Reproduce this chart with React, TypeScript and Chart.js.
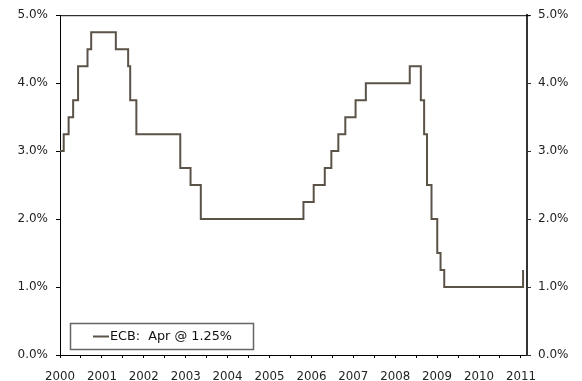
import React, { useEffect, useRef } from "react";
import { Chart, registerables } from "chart.js";

Chart.register(...registerables);

// Year tick labels along the bottom axis
const yearLabels = ["2000", "2001", "2002", "2003", "2004", "2005", "2006", "2007", "2008", "2009", "2010", "2011"];

// ECB main refinancing rate: change dates (decimal years) and new level (%)
const changeDates = [
  2000.0, 2000.09, 2000.21, 2000.32, 2000.44, 2000.67, 2000.76,
  2001.36, 2001.66, 2001.71, 2001.86,
  2002.93, 2003.18, 2003.43,
  2005.93, 2006.18, 2006.45, 2006.61, 2006.78, 2006.95, 2007.2, 2007.45,
  2008.52, 2008.79, 2008.87, 2008.94, 2009.05, 2009.19, 2009.27, 2009.36,
  2011.28,
];
const rateValues = [
  3.0, 3.25, 3.5, 3.75, 4.25, 4.5, 4.75,
  4.5, 4.25, 3.75, 3.25,
  2.75, 2.5, 2.0,
  2.25, 2.5, 2.75, 3.0, 3.25, 3.5, 3.75, 4.0,
  4.25, 3.75, 3.25, 2.5, 2.0, 1.5, 1.25, 1.0,
  1.25,
];

const seriesLabel = "ECB:  Apr @ 1.25%";
const yTickValues = [0, 1, 2, 3, 4, 5];

const X_MIN = 2000;
const X_MAX = 2011.376;
const LABEL_SPACING = 1.0207; // spacing of year labels in axis units, as drawn in the reference

const FONT = "'DejaVu Sans', Verdana, sans-serif";

export default function App() {
  const canvasRef = useRef<HTMLCanvasElement | null>(null);

  useEffect(() => {
    document.body.style.margin = "0";
    document.body.style.overflow = "hidden";
    const canvas = canvasRef.current;
    if (!canvas) return;

    const frame = {
      id: "frameAndLegend",
      afterDraw(chart: any) {
        const { ctx, chartArea } = chart;
        ctx.save();
        // top border
        ctx.strokeStyle = "#000";
        ctx.lineWidth = 1;
        ctx.beginPath();
        ctx.moveTo(chartArea.left, chartArea.top + 0.5);
        ctx.lineTo(chartArea.right + 3, chartArea.top + 0.5);
        ctx.stroke();

        // legend box
        const ds = chart.data.datasets[0];
        const bx = chartArea.left + 10;
        const by = chartArea.bottom - 32;
        const bw = 183;
        const bh = 26;
        ctx.fillStyle = "#fff";
        ctx.fillRect(bx, by, bw, bh);
        ctx.strokeStyle = "#666";
        ctx.lineWidth = 1.5;
        ctx.strokeRect(bx + 0.5, by + 0.5, bw, bh);
        const cy = by + bh / 2 + 0.5;
        ctx.strokeStyle = ds.borderColor;
        ctx.lineWidth = 2;
        ctx.beginPath();
        ctx.moveTo(bx + 23, cy);
        ctx.lineTo(bx + 39, cy);
        ctx.stroke();
        ctx.fillStyle = "#111";
        ctx.font = `12.8px ${FONT}`;
        ctx.textBaseline = "middle";
        ctx.textAlign = "left";
        ctx.fillText(ds.label, bx + 40, cy);
        ctx.restore();
      },
    };

    const tickFont = { family: FONT, size: 12 };

    const chart = new Chart(canvas, {
      type: "line",
      data: {
        datasets: [
          {
            label: seriesLabel,
            data: changeDates.map((d, i) => ({ x: d, y: rateValues[i] })),
            stepped: "before",
            borderColor: "#5b5248",
            borderWidth: 2,
            pointRadius: 0,
            fill: false,
          },
        ],
      },
      options: {
        animation: false,
        responsive: false,
        devicePixelRatio: 1,
        layout: { padding: { top: 15, left: 0, right: 0, bottom: 0 } },
        plugins: { legend: { display: false }, tooltip: { enabled: false } },
        scales: {
          x: {
            type: "linear",
            min: X_MIN,
            max: X_MAX,
            position: "bottom",
            grid: { drawOnChartArea: false, drawTicks: true, tickLength: 3, color: "#000" },
            border: { color: "#000", width: 1 },
            ticks: {
              font: { family: FONT, size: 11.8 },
              color: "#222",
              padding: 12,
              autoSkip: false,
              maxRotation: 0,
              callback: (_v: any, index: number) => (index % 2 === 0 ? yearLabels[index / 2] : ""),
            },
            afterBuildTicks: (scale: any) => {
              const t: { value: number }[] = [];
              for (let j = 0; j < yearLabels.length * 2 - 1; j++) {
                t.push({ value: X_MIN + j * 0.5 * LABEL_SPACING });
              }
              scale.ticks = t;
            },
            afterFit: (scale: any) => {
              scale.height = 26;
            },
          },
          y: {
            position: "left",
            min: 0,
            max: 5,
            grid: { drawOnChartArea: false, tickLength: 4, color: "#000" },
            border: { color: "#000", width: 1 },
            ticks: {
              font: tickFont,
              color: "#222",
              padding: 8,
              callback: (v: any) => Number(v).toFixed(1) + "%",
            },
            afterBuildTicks: (scale: any) => {
              scale.ticks = yTickValues.map((v) => ({ value: v }));
            },
            afterFit: (scale: any) => {
              scale.width = 60;
            },
          },
          y2: {
            position: "right",
            min: 0,
            max: 5,
            grid: { drawOnChartArea: false, tickLength: 4, color: "#333" },
            border: { color: "#333", width: 2 },
            ticks: {
              font: tickFont,
              color: "#222",
              padding: 7,
              callback: (v: any) => Number(v).toFixed(1) + "%",
            },
            afterBuildTicks: (scale: any) => {
              scale.ticks = yTickValues.map((v) => ({ value: v }));
            },
            afterFit: (scale: any) => {
              scale.width = 55;
            },
          },
        },
      },
      plugins: [frame],
    });

    return () => chart.destroy();
  }, []);

  return (
    <div style={{ width: 582, height: 381, background: "#fff" }}>
      <canvas ref={canvasRef} width={582} height={381} style={{ display: "block" }} />
    </div>
  );
}
